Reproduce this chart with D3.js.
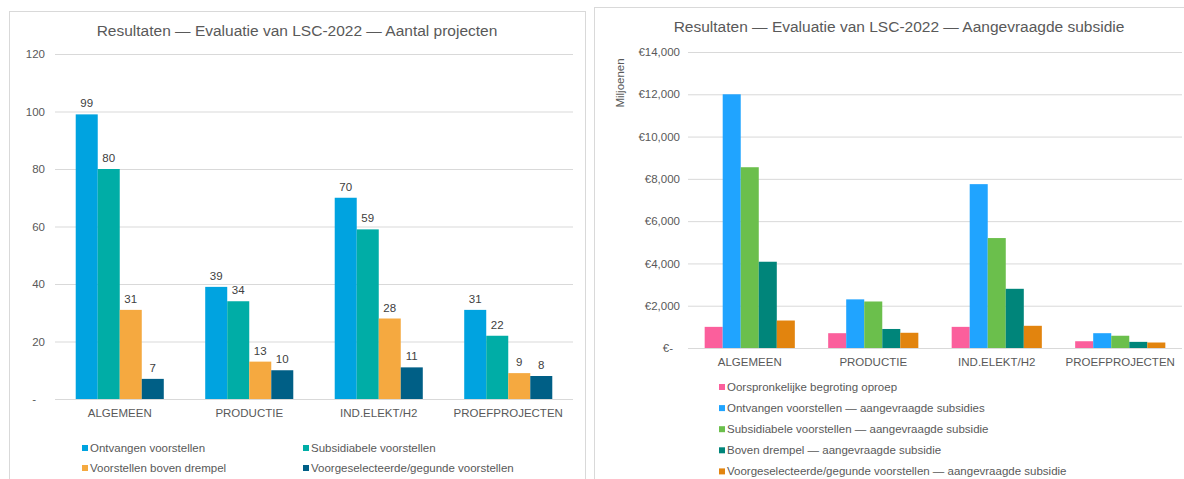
<!DOCTYPE html>
<html>
<head>
<meta charset="utf-8">
<script src="https://cdn.jsdelivr.net/npm/d3@7"></script>
<style>
  body { margin: 0; background: #fff; }
  svg { display: block; font-family: "Liberation Sans", Arial, sans-serif; }
  .grid line { stroke: #d9d9d9; }
  .grid text { fill: #595959; font-size: 11.5px; }
</style>
</head>
<body>
<div id="chart"></div>
<script>
// categories shared by both charts
var categories = ["ALGEMEEN", "PRODUCTIE", "IND.ELEKT/H2", "PROEFPROJECTEN"];

// left chart: aantal projecten
var countSeries = ["Ontvangen voorstellen", "Subsidiabele voorstellen", "Voorstellen boven drempel", "Voorgeselecteerde/gegunde voorstellen"];
var ontvangen = [99, 39, 70, 31];
var subsidiabel = [80, 34, 59, 22];
var bovenDrempel = [31, 13, 28, 9];
var voorgeselecteerd = [7, 10, 11, 8];
var countTicks = [0, 20, 40, 60, 80, 100, 120];

// right chart: aangevraagde subsidie (miljoenen euro)
var subsidySeries = ["Oorspronkelijke begroting oproep", "Ontvangen voorstellen — aangevraagde subsidies", "Subsidiabele voorstellen — aangevraagde subsidie", "Boven drempel — aangevraagde subsidie", "Voorgeselecteerde/gegunde voorstellen — aangevraagde subsidie"];
var begroting = [1000, 700, 1000, 320];
var ontvangenSub = [12000, 2300, 7750, 700];
var subsidiabelSub = [8550, 2200, 5200, 580];
var bovenDrempelSub = [4080, 900, 2800, 290];
var voorgeselecteerdSub = [1300, 720, 1050, 260];
var subsidyTicks = [0, 2000, 4000, 6000, 8000, 10000, 12000, 14000];

var width = 1184, height = 479;

var svg = d3.select("#chart").append("svg")
    .attr("width", width)
    .attr("height", height);

svg.append("rect").attr("width", width).attr("height", height).attr("fill", "#fff");

function drawChart(o) {
  var g = svg.append("g");

  g.append("rect")
      .attr("x", o.box[0] + 0.5).attr("y", o.box[1] + 0.5)
      .attr("width", o.box[2]).attr("height", o.box[3])
      .attr("fill", "none").attr("stroke", "#d9d9d9");

  g.append("text")
      .attr("x", o.box[0] + o.box[2] / 2).attr("y", o.titleY)
      .attr("text-anchor", "middle")
      .attr("fill", "#595959")
      .style("font-size", "15.5px")
      .text(o.title);

  var x = d3.scaleBand()
      .domain(categories)
      .range(o.xRange)
      .paddingInner(o.pad)
      .paddingOuter(o.pad / 2);

  var x1 = d3.scaleBand()
      .domain(d3.range(o.series.length))
      .range([0, x.bandwidth()]);

  var y = d3.scaleLinear()
      .domain([0, o.ticks[o.ticks.length - 1]])
      .range(o.yRange);

  // gridlines + tick labels
  var axis = g.append("g")
      .attr("class", "grid")
      .attr("transform", "translate(" + o.xRange[0] + ",0)")
      .call(d3.axisLeft(y)
        .tickValues(o.ticks)
        .tickSize(-(o.xRange[1] - o.xRange[0]))
        .tickPadding(o.tickPad)
        .tickFormat(o.fmt));
  axis.select(".domain").remove();
  axis.selectAll("text").filter(function(d) { return d === 0; }).attr("dx", o.zeroDx);

  // bars
  var groups = g.selectAll(".cat")
      .data(categories)
      .enter().append("g")
      .attr("transform", function(d) { return "translate(" + x(d) + ",0)"; });

  groups.selectAll("rect")
      .data(function(d, i) { return o.values.map(function(v, s) { return {s: s, v: v[i]}; }); })
      .enter().append("rect")
      .attr("x", function(d) { return x1(d.s); })
      .attr("width", x1.bandwidth())
      .attr("y", function(d) { return y(d.v); })
      .attr("height", function(d) { return y(0) - y(d.v); })
      .attr("fill", function(d) { return o.colors[d.s]; });

  if (o.labels) {
    groups.selectAll(".lbl")
        .data(function(d, i) { return o.values.map(function(v, s) { return {s: s, v: v[i]}; }); })
        .enter().append("text")
        .attr("x", function(d) { return x1(d.s) + x1.bandwidth() / 2; })
        .attr("y", function(d) { return y(d.v) - 7; })
        .attr("text-anchor", "middle")
        .attr("fill", "#404040")
        .style("font-size", "11.5px")
        .text(function(d) { return d.v; });
  }

  // category labels
  g.selectAll(".catlbl")
      .data(categories)
      .enter().append("text")
      .attr("x", function(d) { return x(d) + x.bandwidth() / 2; })
      .attr("y", o.yRange[0] + o.catDy)
      .attr("text-anchor", "middle")
      .attr("fill", "#595959")
      .style("font-size", "11.5px")
      .text(function(d) { return d; });

  // legend
  var leg = g.selectAll(".leg")
      .data(o.series)
      .enter().append("g")
      .attr("transform", function(d, i) { var p = o.legendPos(i); return "translate(" + p[0] + "," + p[1] + ")"; });
  leg.append("rect")
      .attr("x", 0).attr("y", -3).attr("width", 6).attr("height", 6)
      .attr("fill", function(d, i) { return o.colors[i]; });
  leg.append("text")
      .attr("x", 8).attr("dy", "0.35em")
      .attr("fill", "#595959")
      .style("font-size", "11.5px")
      .text(function(d) { return d; });

  return g;
}

drawChart({
  box: [9, 11, 576, 480],
  title: "Resultaten — Evaluatie van LSC-2022 — Aantal projecten",
  titleY: 36,
  xRange: [55, 573],
  yRange: [399, 54],
  pad: 0.32,
  series: countSeries,
  values: [ontvangen, subsidiabel, bovenDrempel, voorgeselecteerd],
  colors: ["#00a3e0", "#00ada6", "#f5a940", "#005f86"],
  ticks: countTicks,
  fmt: function(d) { return d === 0 ? "-" : d; },
  tickPad: 10,
  zeroDx: -9,
  labels: true,
  catDy: 18,
  legendPos: function(i) { return [82 + (i % 2) * 221, 448 + Math.floor(i / 2) * 20]; }
});

var right = drawChart({
  box: [594, 7, 610, 480],
  title: "Resultaten — Evaluatie van LSC-2022 — Aangevraagde subsidie",
  titleY: 32,
  xRange: [688, 1182],
  yRange: [348, 52],
  pad: 0.27,
  series: subsidySeries,
  values: [begroting, ontvangenSub, subsidiabelSub, bovenDrempelSub, voorgeselecteerdSub],
  colors: ["#fb5f9c", "#20a4ff", "#6bbf4c", "#00857a", "#e2840e"],
  ticks: subsidyTicks,
  fmt: function(d) { return d === 0 ? "€-" : "€" + d3.format(",")(d); },
  tickPad: 8,
  zeroDx: -7,
  labels: false,
  catDy: 18,
  legendPos: function(i) { return [719, 387 + i * 21.1]; }
});

right.append("text")
    .attr("transform", "translate(624,83) rotate(-90)")
    .attr("text-anchor", "middle")
    .attr("fill", "#595959")
    .style("font-size", "11.5px")
    .text("Miljoenen");
</script>
</body>
</html>
